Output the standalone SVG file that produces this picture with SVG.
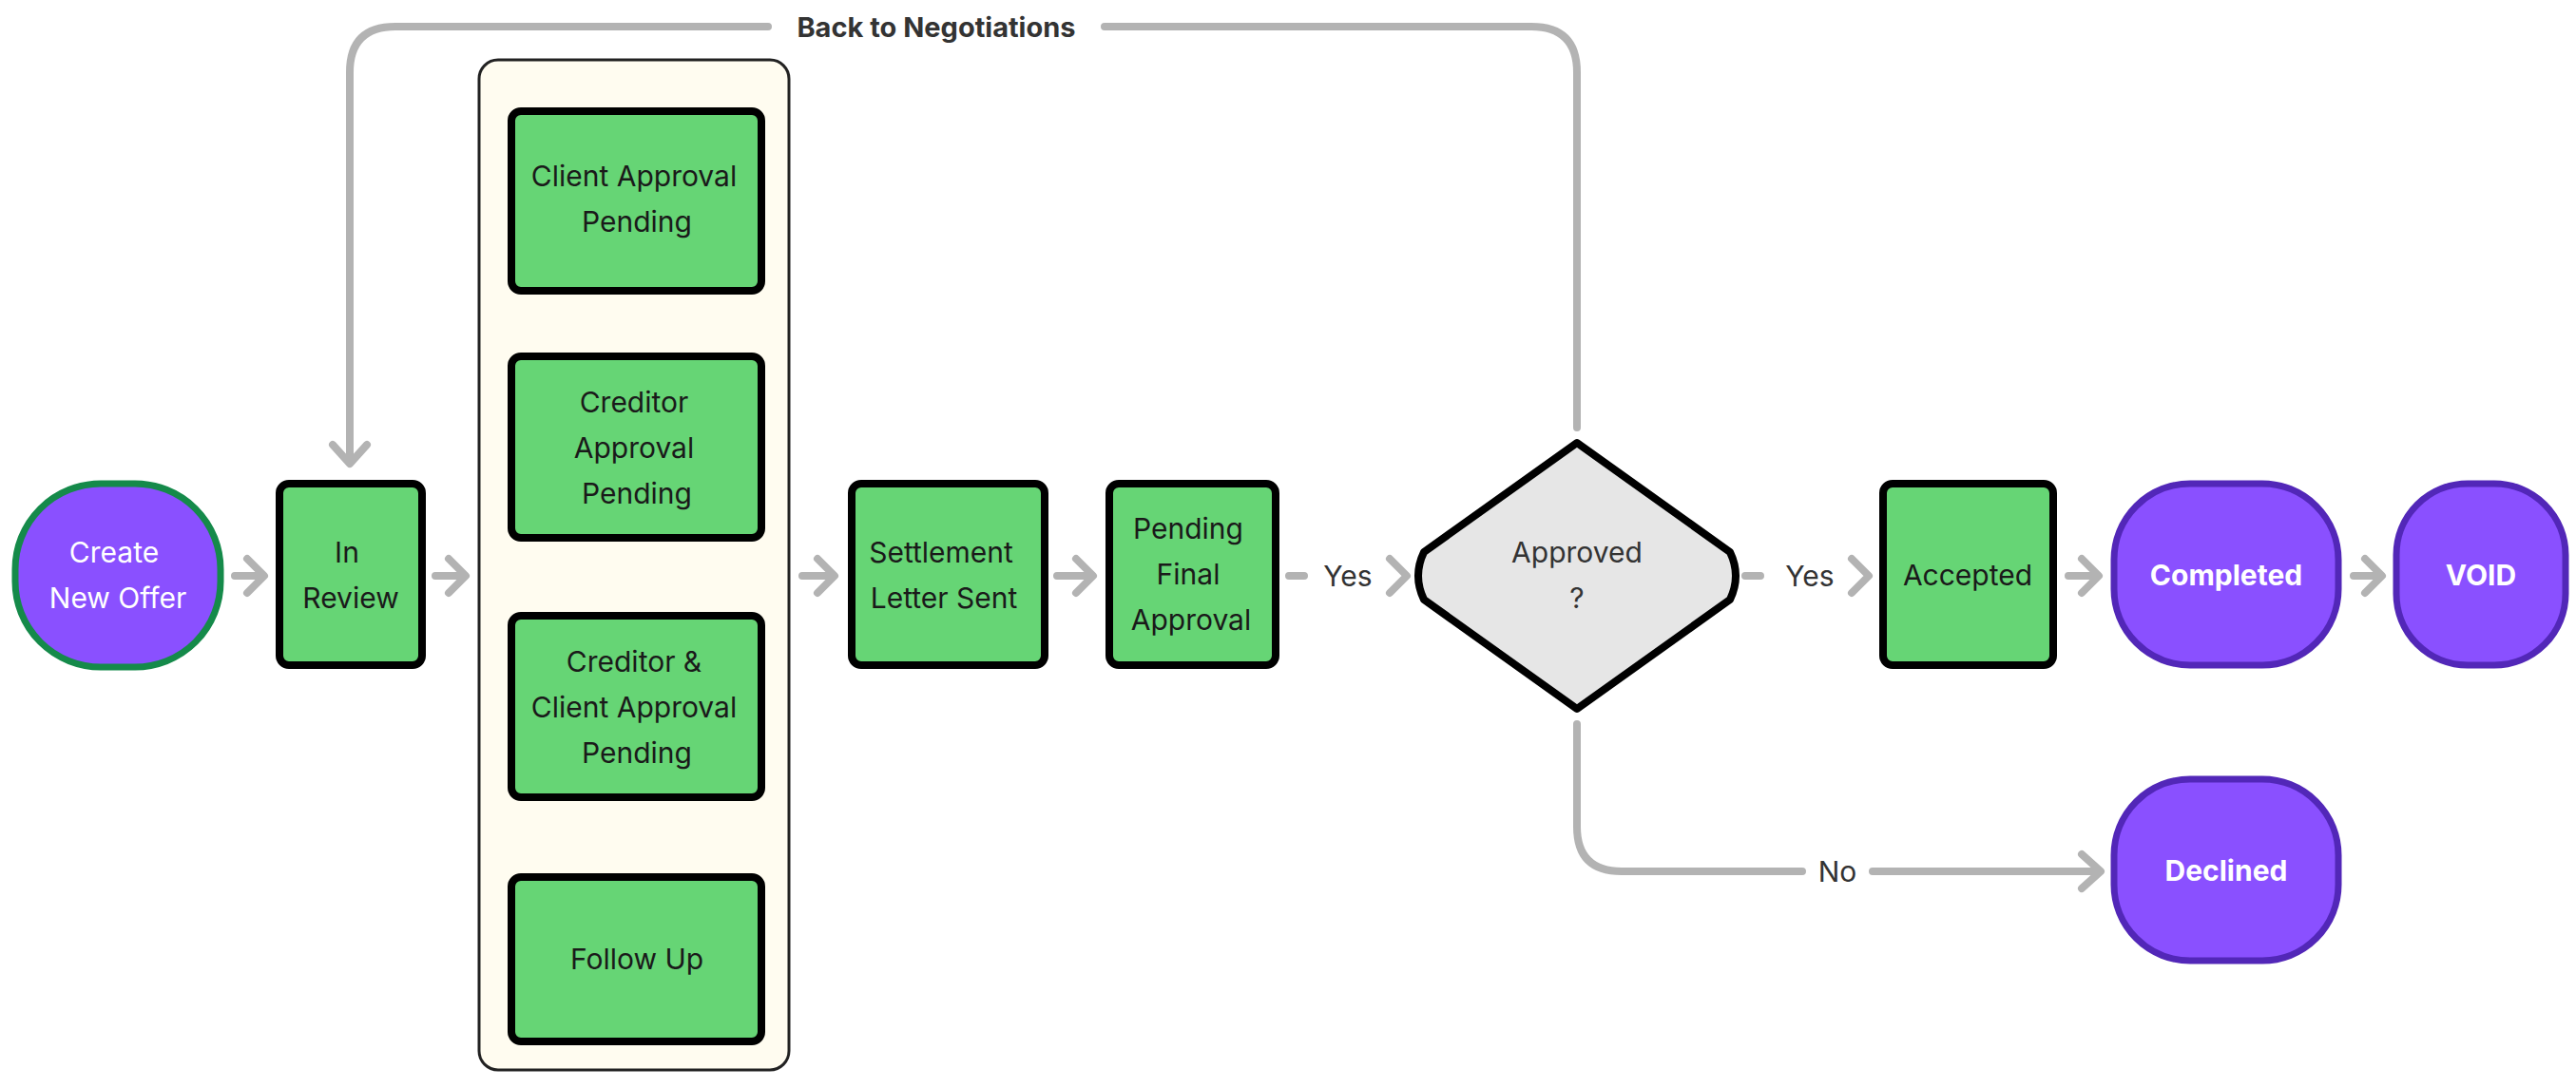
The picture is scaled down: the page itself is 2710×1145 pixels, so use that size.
<svg xmlns="http://www.w3.org/2000/svg" width="2710" height="1145" viewBox="0 0 2710 1145">
<style>
.c{fill:none;stroke:#b3b3b3;stroke-width:8;stroke-linecap:round;stroke-linejoin:round}
.g{fill:#66d575;stroke:#000;stroke-width:8}
.p{fill:#8a50ff;stroke:#5227b8;stroke-width:7}
text{font-family:Inter,"Liberation Sans",sans-serif;font-size:30px;text-anchor:middle}
.d{fill:#1a1a1a}
.w{fill:#fff}
.b{font-weight:bold}
.l{fill:#333}
</style>
<rect width="2710" height="1145" fill="#fff"/>
<g id="connectors">
<path class="c" d="M247 606H276M260 588L278 606L260 624"/>
<path class="c" d="M458 606H488M472 588L490 606L472 624"/>
<path class="c" d="M844 606H876M860 588L878 606L860 624"/>
<path class="c" d="M1112 606H1148M1132 588L1150 606L1132 624"/>
<path class="c" d="M1356 606H1372M1462 588L1480 606L1462 624"/>
<text x="1418" y="617" class="l">Yes</text>
<path class="c" d="M1836 606H1852M1948 588L1966 606L1948 624"/>
<text x="1904" y="617" class="l">Yes</text>
<path class="c" d="M2176 606H2206M2190 588L2208 606L2190 624"/>
<path class="c" d="M2476 606H2504M2488 588L2506 606L2488 624"/>
<path class="c" d="M1659 762V870Q1659 917 1706 917H1896M1970 917H2208M2190 899L2210 917L2190 935"/>
<text x="1933" y="928" class="l">No</text>
<path class="c" d="M1659 450V76Q1659 28 1611 28H1162M808 28H416Q368 28 368 76V486M350 468L368 488L386 468"/>
<text x="985" y="39" class="l b" style="font-size:29px">Back to Negotiations</text>
<path class="c" d="M670 322V354M652 338L670 356L688 338"/>
<path class="c" d="M670 598V630M652 614L670 632L688 614"/>
<path class="c" d="M670 872V904M652 888L670 906L688 888"/>
</g>
<g id="container"><rect x="504" y="63" width="326" height="1063" rx="20" fill="#fffcf0" stroke="#222" stroke-width="3"/></g>
<g id="create"><rect x="16" y="509" width="216" height="193" rx="90" fill="#8a50ff" stroke="#158a4a" stroke-width="7"/><text x="120" y="592" class="w">Create</text><text x="124" y="640" class="w">New Offer</text></g>
<g id="review"><rect x="294" y="509" width="150" height="191" rx="10" class="g"/><text x="365" y="592" class="d">In</text><text x="369" y="640" class="d">Review</text></g>
<g id="client"><rect x="538" y="117" width="263" height="189" rx="10" class="g"/><text x="667" y="196" class="d">Client Approval</text><text x="670" y="244" class="d">Pending</text></g>
<g id="creditor"><rect x="538" y="375" width="263" height="191" rx="10" class="g"/><text x="667" y="434" class="d">Creditor</text><text x="667" y="482" class="d">Approval</text><text x="670" y="530" class="d">Pending</text></g>
<g id="both"><rect x="538" y="648" width="263" height="191" rx="10" class="g"/><text x="667" y="707" class="d">Creditor &amp;</text><text x="667" y="755" class="d">Client Approval</text><text x="670" y="803" class="d">Pending</text></g>
<g id="follow"><rect x="538" y="923" width="263" height="173" rx="10" class="g"/><text x="670" y="1020" class="d">Follow Up</text></g>
<g id="settlement"><rect x="896" y="509" width="203" height="191" rx="10" class="g"/><text x="990" y="592" class="d">Settlement</text><text x="993" y="640" class="d">Letter Sent</text></g>
<g id="pending"><rect x="1167" y="509" width="175" height="191" rx="10" class="g"/><text x="1250" y="567" class="d">Pending</text><text x="1250" y="615" class="d">Final</text><text x="1253" y="663" class="d">Approval</text></g>
<g id="approved"><path d="M1659 466L1820 581Q1832 606 1820 631L1659 746L1498 631Q1486 606 1498 581Z" fill="#e6e6e6" stroke="#000" stroke-width="8" stroke-linejoin="round"/><text x="1659" y="592" class="l">Approved</text><text x="1659" y="640" class="l">?</text></g>
<g id="accepted"><rect x="1981" y="509" width="179" height="191" rx="10" class="g"/><text x="2070" y="616" class="d">Accepted</text></g>
<g id="completed"><rect x="2224" y="509" width="236" height="191" rx="80" class="p"/><text x="2342" y="616" class="w b">Completed</text></g>
<g id="void"><rect x="2521" y="509" width="178" height="191" rx="75" class="p"/><text x="2610" y="616" class="w b">VOID</text></g>
<g id="declined"><rect x="2224" y="820" width="236" height="191" rx="80" class="p"/><text x="2342" y="927" class="w b">Declined</text></g>
</svg>
